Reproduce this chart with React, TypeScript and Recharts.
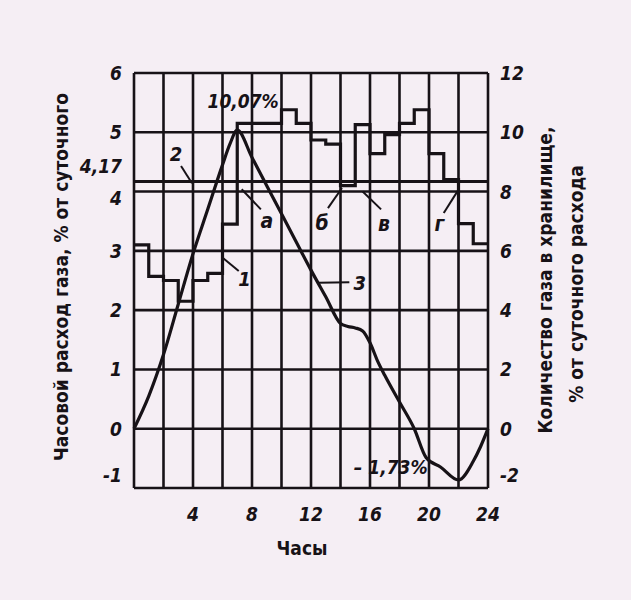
import React from 'react';
import {
  ComposedChart,
  Line,
  XAxis,
  YAxis,
  CartesianGrid,
  ReferenceLine,
  ReferenceDot,
} from 'recharts';

// hourly gas use, % of daily total, one value per hour 0-1 ... 23-24 (curve 1)
const hours = [0, 1, 2, 3, 4, 5, 6, 7, 8, 9, 10, 11, 12, 13, 14, 15, 16, 17, 18, 19, 20, 21, 22, 23, 24];
const hourlyUse = [
  3.1, 2.57, 2.5, 2.15, 2.5, 2.62, 3.45, 5.15, 5.15, 5.15, 5.38, 5.15,
  4.87, 4.8, 4.1, 5.13, 4.64, 4.96, 5.15, 5.38, 4.64, 4.2, 3.46, 3.12,
];

// average hourly use (line 2)
const averageUse = 4.17;

// gas in the holder, % of daily total (curve 3)
const storageHours = [0, 1, 2, 3, 4, 5, 6, 6.5, 7, 8, 9, 10, 11, 12, 13, 14, 14.5, 15, 15.5, 16, 16.5, 17, 18, 19, 19.8, 20.8, 22, 23, 23.5, 24];
const storageLevel = [0, 1.1, 2.5, 4.2, 5.9, 7.4, 8.9, 9.6, 10.07, 9.15, 8.2, 7.25, 6.3, 5.35, 4.45, 3.55, 3.45, 3.4, 3.3, 2.9, 2.3, 1.8, 0.9, 0.0, -0.97, -1.3, -1.73, -1.1, -0.6, 0];

const hourTicks = [0, 2, 4, 6, 8, 10, 12, 14, 16, 18, 20, 22, 24];
const hourLabels = [4, 8, 12, 16, 20, 24];
const leftTicks = [-1, 0, 1, 2, 3, 4, 4.17, 5, 6];
const leftGrid = [-1, 0, 1, 2, 3, 4, 5, 6];
const rightTicks = [-2, 0, 2, 4, 6, 8, 10, 12];

const stepData = hours.map((h, i) => ({ h, v: hourlyUse[Math.min(i, hourlyUse.length - 1)] }));
const storageData = storageHours.map((h, i) => ({ h, v: storageLevel[i] }));

// callouts (hour, left-axis value)
const notes = [
  { text: '10,07%', x: 7.4, y: 5.52, size: 19 },
  { text: '– 1,73%', x: 17.4, y: -0.64, size: 19 },
  { text: '2', x: 2.85, y: 4.63, size: 20 },
  { text: 'а', x: 9.0, y: 3.5, size: 21 },
  { text: 'б', x: 12.75, y: 3.47, size: 21 },
  { text: 'в', x: 16.95, y: 3.45, size: 21 },
  { text: 'г', x: 20.7, y: 3.45, size: 21 },
  { text: '1', x: 7.5, y: 2.52, size: 20 },
  { text: '3', x: 15.3, y: 2.46, size: 20 },
];
const leaders = [
  [{ x: 3.19, y: 4.43 }, { x: 3.93, y: 4.14 }],
  [{ x: 8.6, y: 3.7 }, { x: 7.3, y: 4.04 }],
  [{ x: 13.15, y: 3.72 }, { x: 14.1, y: 4.06 }],
  [{ x: 16.75, y: 3.7 }, { x: 15.5, y: 4.0 }],
  [{ x: 21.0, y: 3.64 }, { x: 21.97, y: 4.02 }],
  [{ x: 7.1, y: 2.66 }, { x: 6.03, y: 2.88 }],
  [{ x: 14.6, y: 2.47 }, { x: 12.5, y: 2.46 }],
];

const INK = '#171217';
const NUM_FONT = '"DejaVu Sans Condensed", "DejaVu Sans", sans-serif';

const fmt = (v: number) => String(v).replace('.', ',');

function LeftTick({ x, y, payload }: any) {
  const v = payload.value;
  const dy = v === 4.17 ? -15 : v === 4 ? 6 : v === -1 ? -13 : 0;
  return (
    <text x={x - 4} y={y + dy} textAnchor="end" dominantBaseline="central"
      fontFamily={NUM_FONT} fontStyle="italic" fontWeight="bold" fontSize={19} fill={INK}>
      {fmt(v)}
    </text>
  );
}

function RightTick({ x, y, payload }: any) {
  const v = payload.value;
  const dy = v === -2 ? -13 : 0;
  return (
    <text x={x + 4} y={y + dy} textAnchor="start" dominantBaseline="central"
      fontFamily={NUM_FONT} fontStyle="italic" fontWeight="bold" fontSize={19} fill={INK}>
      {fmt(v)}
    </text>
  );
}

function HourTick({ x, y, payload }: any) {
  if (!hourLabels.includes(payload.value)) return null;
  return (
    <text x={x} y={y + 18} textAnchor="middle" dominantBaseline="central"
      fontFamily={NUM_FONT} fontStyle="italic" fontWeight="bold" fontSize={19} fill={INK}>
      {payload.value}
    </text>
  );
}

export default function App() {
  return (
    <div style={{ position: 'absolute', left: 0, top: 0, width: 631, height: 600, background: '#f5eef4', overflow: 'hidden' }}>
      <ComposedChart width={631} height={600} margin={{ top: 73, right: 83, bottom: 72, left: 74 }}>
        <CartesianGrid
          yAxisId="left"
          horizontalValues={leftGrid}
          verticalValues={hourTicks}
          stroke={INK}
          strokeWidth={2.6}
        />
        <XAxis
          xAxisId={0}
          type="number"
          dataKey="h"
          domain={[0, 24]}
          ticks={hourTicks}
          interval={0}
          height={40}
          axisLine={false}
          tickLine={false}
          tick={<HourTick />}
        />
        <YAxis
          yAxisId="left"
          orientation="left"
          domain={[-1, 6]}
          ticks={leftTicks}
          interval={0}
          width={60}
          axisLine={false}
          tickLine={false}
          tick={<LeftTick />}
        />
        <YAxis
          yAxisId="right"
          orientation="right"
          domain={[-2, 12]}
          ticks={rightTicks}
          interval={0}
          width={60}
          axisLine={false}
          tickLine={false}
          tick={<RightTick />}
        />
        <ReferenceLine yAxisId="left" y={averageUse} stroke={INK} strokeWidth={3} />
        {leaders.map((seg, i) => (
          <ReferenceLine key={`ld-${i}`} yAxisId="left" segment={seg} stroke={INK} strokeWidth={2} ifOverflow="visible" />
        ))}
        <Line
          yAxisId="left"
          data={stepData}
          dataKey="v"
          type="stepAfter"
          stroke={INK}
          strokeWidth={3.2}
          dot={false}
          isAnimationActive={false}
        />
        <Line
          yAxisId="right"
          data={storageData}
          dataKey="v"
          type="monotone"
          stroke={INK}
          strokeWidth={3.2}
          dot={false}
          isAnimationActive={false}
        />
        {notes.map((n, i) => (
          <ReferenceDot
            key={`nt-${i}`}
            yAxisId="left"
            x={n.x}
            y={n.y}
            r={0}
            ifOverflow="visible"
            shape={(p: any) => (
              <text x={p.cx} y={p.cy} textAnchor="middle" dominantBaseline="central"
                fontFamily={NUM_FONT} fontStyle="italic" fontWeight="bold" fontSize={n.size} fill={INK}>
                {n.text}
              </text>
            )}
          />
        ))}
      </ComposedChart>
      <svg width={631} height={600} style={{ position: 'absolute', left: 0, top: 0, pointerEvents: 'none' }}>
        <g fontFamily={NUM_FONT} fontWeight="bold" fontSize={19} fill={INK}>
          <text x={61} y={277} textAnchor="middle" dominantBaseline="central" transform="rotate(-90 61 277)">
            Часовой расход газа, % от суточного
          </text>
          <text x={545} y={280} textAnchor="middle" dominantBaseline="central" transform="rotate(-90 545 280)">
            Количество газа в хранилище,
          </text>
          <text x={576} y={284} textAnchor="middle" dominantBaseline="central" transform="rotate(-90 576 284)">
            % от суточного расхода
          </text>
          <text x={302} y={548} textAnchor="middle" dominantBaseline="central">
            Часы
          </text>
        </g>
      </svg>
    </div>
  );
}
